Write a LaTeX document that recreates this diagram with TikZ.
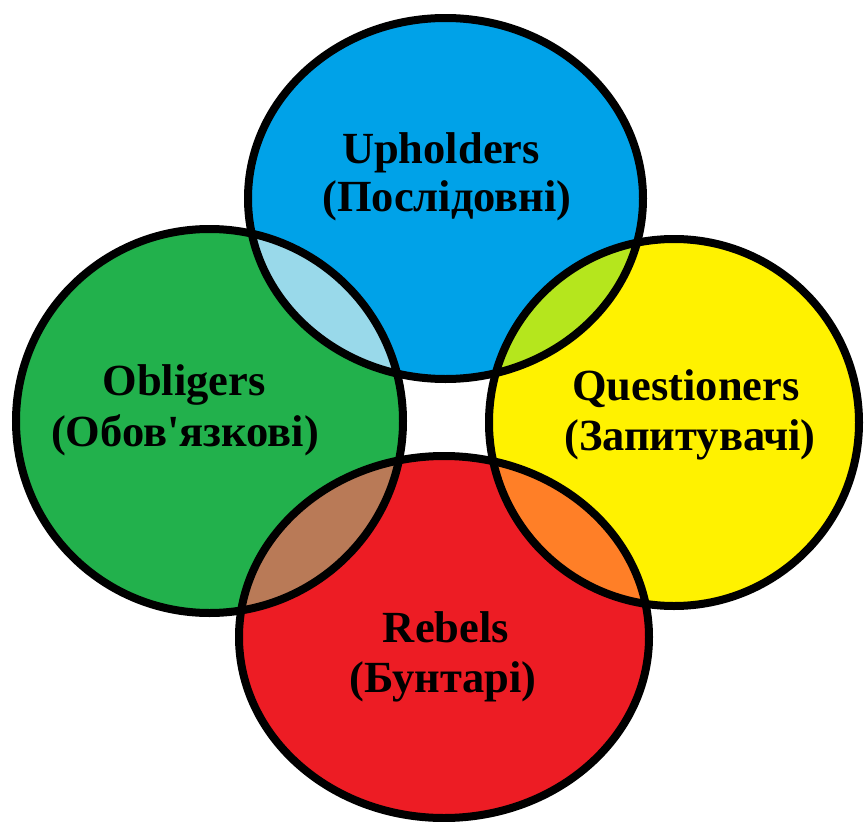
\documentclass[tikz,border=0pt]{standalone}
\usepackage{fontspec}
\setmainfont{Liberation Serif}[Ligatures=TeXOff]
\definecolor{cblue}{HTML}{00A2E8}
\definecolor{cgreen}{HTML}{22B14C}
\definecolor{cyellow}{HTML}{FFF200}
\definecolor{cred}{HTML}{ED1C24}
\definecolor{clblue}{HTML}{99D9EA}
\definecolor{clime}{HTML}{B5E61D}
\definecolor{cbrown}{HTML}{B97A57}
\definecolor{corange}{HTML}{FF7F27}
\begin{document}
\begin{tikzpicture}[x=1pt,y=-1pt,
  lbl/.style={font=\fontsize{44.5}{48}\selectfont\bfseries, anchor=base, inner sep=0pt},
  ring/.style={draw=black, line width=8pt}]
\useasboundingbox (0,0) rectangle (865,822);
\coordinate (B) at (445.5,198.5);
\coordinate (G) at (209.5,421);
\coordinate (Y) at (674,422.5);
\coordinate (R) at (444,637);
\def\blueE{(B) ellipse [x radius=197.5pt, y radius=180.5pt]}
\def\greenE{(G) ellipse [x radius=193.5pt, y radius=192pt]}
\def\yellowE{(Y) ellipse [x radius=185pt, y radius=183.5pt]}
\def\redE{(R) ellipse [x radius=205pt, y radius=181pt]}
\fill[cblue] \blueE;
\fill[cgreen] \greenE;
\fill[cyellow] \yellowE;
\fill[cred] \redE;
\begin{scope}\clip \blueE; \fill[clblue] \greenE; \end{scope}
\begin{scope}\clip \blueE; \fill[clime] \yellowE; \end{scope}
\begin{scope}\clip \redE; \fill[cbrown] \greenE; \end{scope}
\begin{scope}\clip \redE; \fill[corange] \yellowE; \end{scope}
\draw[ring] \blueE;
\draw[ring] \greenE;
\draw[ring] \yellowE;
\draw[ring] \redE;
\node[lbl] (up1) at (441,163) {Upholders};
\node[lbl] (up2) at (447,211) {(Послідовні)};
\node[lbl] (ob1) at (184,395) {Obligers};
\node[lbl] (ob2) at (185,446) {(Обов'язкові)};
\node[lbl] (qu1) at (686,400) {Questioners};
\node[lbl] (qu2) at (690,450) {(Запитувачі)};
\node[lbl] (re1) at (446,642) {Rebels};
\node[lbl] (re2) at (443,692) {(Бунтарі)};
\end{tikzpicture}
\end{document}
